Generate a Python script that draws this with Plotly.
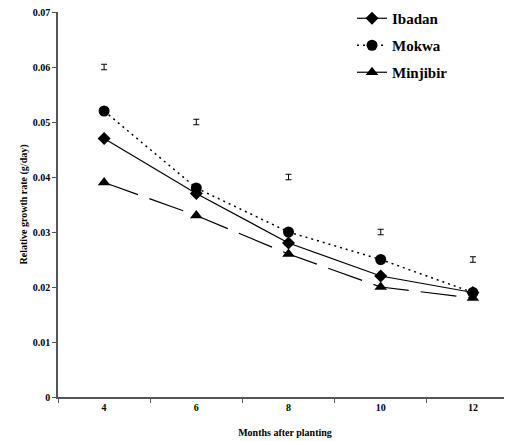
import plotly.graph_objects as go

months = ["4", "6", "8", "10", "12"]
ibadan = [0.047, 0.037, 0.028, 0.022, 0.019]
mokwa = [0.052, 0.038, 0.030, 0.025, 0.019]
minjibir = [0.039, 0.033, 0.026, 0.020, 0.018]
lsd_pos = [0.060, 0.050, 0.040, 0.030, 0.025]
lsd_err = [0.0005, 0.0005, 0.0005, 0.0005, 0.0005]

y_ticks = [0, 0.01, 0.02, 0.03, 0.04, 0.05, 0.06, 0.07]
y_labels = ["0", "0.01", "0.02", "0.03", "0.04", "0.05", "0.06", "0.07"]

FONT = "Liberation Serif, Times New Roman, serif"

fig = go.Figure()
fig.add_trace(go.Scatter(
    x=months, y=ibadan, name="Ibadan", mode="lines+markers",
    line=dict(color="black", width=1.2),
    marker=dict(symbol="diamond", size=10, color="black"),
    legendgroup="a"))
fig.add_trace(go.Scatter(
    x=months, y=mokwa, name="Mokwa", mode="lines+markers",
    line=dict(color="black", width=1.5, dash="2px,4px"),
    marker=dict(symbol="circle", size=11, color="black"),
    legendgroup="b"))
fig.add_trace(go.Scatter(
    x=months, y=minjibir, name="Minjibir", mode="lines+markers",
    line=dict(color="black", width=1.2, dash="36px,12px"),
    marker=dict(symbol="triangle-up", size=11, color="black"),
    legendgroup="c"))
fig.add_trace(go.Scatter(
    x=months, y=lsd_pos, mode="markers", showlegend=False,
    marker=dict(size=1, color="rgba(0,0,0,0)"),
    error_y=dict(type="data", array=lsd_err, visible=True,
                 color="black", thickness=1, width=3)))

fig.update_layout(
    width=512, height=441,
    margin=dict(l=50, r=8, t=4, b=52, autoexpand=False),
    paper_bgcolor="white", plot_bgcolor="white",
    font=dict(family=FONT, color="black"),
    showlegend=True,
    legend=dict(xref="paper", yref="paper", x=0.6476, y=1.026,
                xanchor="left", yanchor="top",
                font=dict(family=FONT, size=15, color="black", weight="bold"),
                tracegroupgap=4.5, traceorder="grouped",
                bgcolor="rgba(0,0,0,0)"),
)
fig.update_xaxes(
    type="category", range=[-0.5, 4.424], automargin=False,
    tickson="boundaries", ticks="outside", ticklen=4, tickcolor="#555",
    showline=True, linecolor="#555", linewidth=1.5,
    showgrid=False, zeroline=False, ticklabeloverflow="allow",
    tickfont=dict(family=FONT, size=10, color="black", weight="bold"),
    title=dict(text="Months after planting", standoff=17,
               font=dict(family=FONT, size=10, color="black", weight="bold")),
)
fig.update_yaxes(
    range=[0, 0.07], tickvals=y_ticks, ticktext=y_labels, automargin=False,
    ticks="outside", ticklen=4, tickcolor="#555",
    showline=True, linecolor="#555", linewidth=1.5,
    showgrid=False, zeroline=False, ticklabeloverflow="allow",
    tickfont=dict(family=FONT, size=10, color="black", weight="bold"),
    title=dict(text="Relative growth rate (g/day)", standoff=3,
               font=dict(family=FONT, size=10, color="black", weight="bold")),
)

fig.write_html("out.html")
